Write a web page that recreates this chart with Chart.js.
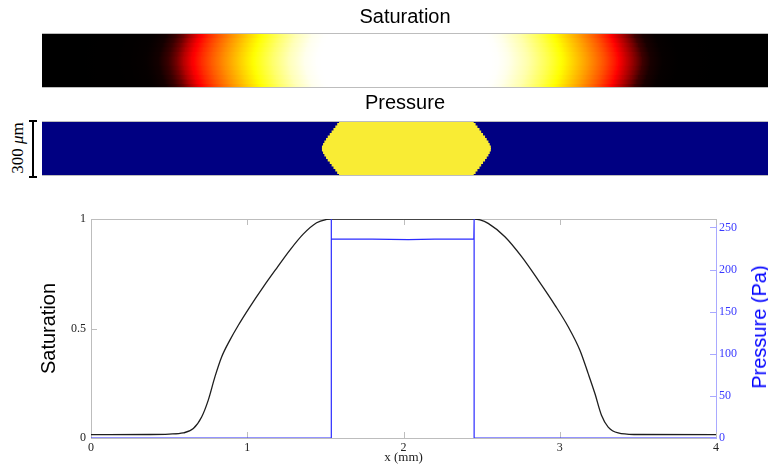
<!DOCTYPE html>
<html>
<head>
<meta charset="utf-8">
<script src="https://cdn.jsdelivr.net/npm/chart.js@4.4.1/dist/chart.umd.min.js"></script>
<style>
  html, body { margin: 0; padding: 0; background: #fff; width: 768px; height: 465px; overflow: hidden; position: relative; }
  canvas { position: absolute; }
  #satStrip { left: 42px; top: 0; }
  #presStrip { left: 42px; top: 89px; }
  #profile { left: 0; top: 190px; }
  .scale-caps { position: absolute; left: 29px; top: 120px; width: 8px; height: 54px; border-top: 2px solid #000; border-bottom: 2px solid #000; }
  .scale-line { position: absolute; left: 32px; top: 121px; width: 2px; height: 55px; background: #000; }
  .scale-label { position: absolute; left: 18px; top: 148px; transform: translate(-50%, -50%) rotate(-90deg);
                 font: 17px 'Liberation Serif', serif; white-space: nowrap; color: #000; }
  .pres-title { position: absolute; left: 759px; top: 327px; transform: translate(-50%, -50%) rotate(-90deg);
                font: 20px 'Liberation Sans', Arial, sans-serif; white-space: nowrap; color: #0000ff; line-height: 24px; }
</style>
</head>
<body>
<canvas id="satStrip" width="726" height="88"></canvas>
<canvas id="presStrip" width="726" height="87"></canvas>
<canvas id="profile" width="768" height="275"></canvas>
<div class="scale-caps"></div>
<div class="scale-line"></div>
<div class="scale-label">300 <i>μ</i>m</div>
<div class="pres-title">Pressure (Pa)</div>

<script>
// saturation profile along the channel (x in mm)
const satX = [0, 0.38, 0.5, 0.59, 0.655, 0.708, 0.75, 0.793, 0.836, 0.889,
              0.943, 1.017, 1.103, 1.188, 1.273, 1.358, 1.444, 1.508, 1.536, 2.0,
              2.452, 2.49, 2.542, 2.649, 2.756, 2.862, 2.969, 3.054, 3.129, 3.182,
              3.225, 3.267, 3.31, 3.374, 3.48, 4];
const satVal = [0.015, 0.016, 0.018, 0.023, 0.043, 0.096, 0.172, 0.279, 0.37, 0.447,
                0.515, 0.599, 0.69, 0.775, 0.858, 0.931, 0.983, 0.998, 1, 1,
                1, 0.996, 0.98, 0.919, 0.828, 0.721, 0.607, 0.508, 0.401, 0.294,
                0.203, 0.104, 0.05, 0.023, 0.016, 0.015];

// pressure profile (Pa)
const presX = [0, 1.536, 1.536, 1.54, 1.8, 2.03, 2.2, 2.45, 2.452, 2.452, 4];
const presVal = [0, 0, 260, 236, 236, 235.5, 236, 236, 260, 0, 0];

// tick labels
const xTicks = [0, 1, 2, 3, 4];
const satTicks = [0, 0.5, 1];
const presTicks = [0, 50, 100, 150, 200, 250];

// saturation strip: inward pull of the fronts per row, top to bottom (mm)
const satRowShift = [0.042, 0.031, 0.021, 0.013, 0.006, 0.0015, 0.0015, 0.006, 0.013, 0.021, 0.031, 0.042];
const satCentre = 1.994;

// pressure strip: extent of the high-pressure droplet per row, top to bottom (mm)
const dropLeft = [1.633, 1.623, 1.613, 1.603, 1.593, 1.583, 1.572, 1.563, 1.554, 1.547, 1.541,
                  1.541, 1.547, 1.554, 1.563, 1.572, 1.583, 1.593, 1.603, 1.613, 1.623, 1.633];
const dropRight = [2.352, 2.362, 2.372, 2.383, 2.392, 2.402, 2.413, 2.422, 2.431, 2.438, 2.444,
                   2.444, 2.438, 2.431, 2.422, 2.413, 2.402, 2.392, 2.383, 2.372, 2.362, 2.352];

const axisGrey = '#bdbdbd';
const axisBlue = '#a9a9ff';
const presBlue = '#2b2bff';

Chart.defaults.font.family = "'Liberation Serif', serif";

// colour limits of the strip follow the data range, like imagesc
const satMin = Math.min(...satVal);
const satMax = Math.max(...satVal);

function clamp(v) { return Math.max(0, Math.min(1, v)); }
function hot(s) {
  const v = (s - satMin) / (satMax - satMin);
  const r = clamp(v * 8 / 3), g = clamp((v - 3 / 8) * 8 / 3), b = clamp((v - 3 / 4) * 4);
  return 'rgb(' + Math.round(r * 255) + ',' + Math.round(g * 255) + ',' + Math.round(b * 255) + ')';
}

function hotFill(ctx) {
  const raw = ctx.raw;
  if (!raw || raw.s0 === undefined) return '#000';
  const xs = ctx.chart.scales.x;
  const p0 = xs.getPixelForValue(raw.x[0]);
  const p1 = xs.getPixelForValue(raw.x[1]);
  if (!isFinite(p0) || !isFinite(p1) || p1 - p0 < 0.5) return hot(raw.s0);
  const g = ctx.chart.ctx.createLinearGradient(p0, 0, p1, 0);
  for (let k = 0; k <= 6; k++) {
    const t = k / 6;
    g.addColorStop(t, hot(raw.s0 + (raw.s1 - raw.s0) * t));
  }
  return g;
}

const stripFrame = {
  id: 'stripFrame',
  afterDraw(chart) {
    const { ctx, chartArea: a } = chart;
    ctx.save();
    ctx.strokeStyle = axisGrey;
    ctx.lineWidth = 1;
    ctx.beginPath();
    ctx.moveTo(a.left, Math.round(a.top) + 0.5); ctx.lineTo(a.right, Math.round(a.top) + 0.5);
    ctx.moveTo(a.left, Math.round(a.bottom) - 0.5); ctx.lineTo(a.right, Math.round(a.bottom) - 0.5);
    ctx.stroke();
    ctx.restore();
  }
};

function stripTitle(text, pad) {
  return {
    display: true, text: text, color: '#000', padding: pad,
    font: { family: "'Liberation Sans', Arial, sans-serif", size: 20, weight: 'normal' }
  };
}

// --- saturation strip
const satRows = satRowShift.map((_, i) => 's' + i);
function pullIn(x, s) {
  if (x <= 0 || x >= 4) return x;
  return x < satCentre ? x + s : x - s;
}
new Chart(document.getElementById('satStrip'), {
  type: 'bar',
  data: {
    labels: satRows,
    datasets: satRowShift.map((s, r) => ({
      data: satX.slice(1).map((x, i) => ({
        x: [pullIn(satX[i], s), pullIn(x, s)], y: satRows[r], s0: satVal[i], s1: satVal[i + 1]
      })),
      backgroundColor: hotFill,
      borderWidth: 0,
      inflateAmount: 0.6,
      grouped: false,
      barPercentage: 1,
      categoryPercentage: 1
    }))
  },
  options: {
    indexAxis: 'y',
    responsive: false,
    animation: false,
    layout: { padding: 0 },
    plugins: {
      legend: { display: false },
      tooltip: { enabled: false },
      title: stripTitle('Saturation', { top: 5, bottom: 4 })
    },
    scales: {
      x: { type: 'linear', min: 0.03, max: 3.94, display: false },
      y: { type: 'category', display: false }
    }
  },
  plugins: [stripFrame]
});

// --- pressure strip
const presRows = dropLeft.map((_, i) => 'p' + i);
new Chart(document.getElementById('presStrip'), {
  type: 'bar',
  data: {
    labels: presRows,
    datasets: [
      {
        data: presRows.map((r, i) => ({ x: [dropLeft[i], dropRight[i]], y: r })),
        backgroundColor: '#f9ec34',
        order: 0
      },
      {
        data: presRows.map(r => ({ x: [0, 4], y: r })),
        backgroundColor: '#000082',
        order: 1
      }
    ]
  },
  options: {
    indexAxis: 'y',
    responsive: false,
    animation: false,
    datasets: { bar: { grouped: false, barPercentage: 1, categoryPercentage: 1, borderWidth: 0, inflateAmount: 0.6 } },
    plugins: {
      legend: { display: false },
      tooltip: { enabled: false },
      title: stripTitle('Pressure', { top: 2, bottom: 6 })
    },
    scales: {
      x: { type: 'linear', min: 0.03, max: 3.94, display: false },
      y: { type: 'category', display: false }
    }
  },
  plugins: [stripFrame]
});

// --- profile plot
const boxTicks = {
  id: 'boxTicks',
  beforeDatasetsDraw(chart) {
    const { ctx, chartArea: a, scales } = chart;
    const len = 6;
    ctx.save();
    ctx.lineWidth = 1;
    ctx.strokeStyle = axisGrey;
    ctx.beginPath();
    ctx.moveTo(a.left, Math.round(a.top) + 0.5);
    ctx.lineTo(a.right, Math.round(a.top) + 0.5);
    scales.x.ticks.forEach(t => {
      const px = Math.round(scales.x.getPixelForValue(t.value)) + 0.5;
      ctx.moveTo(px, a.bottom); ctx.lineTo(px, a.bottom - len);
      ctx.moveTo(px, a.top); ctx.lineTo(px, a.top + len);
    });
    scales.y.ticks.forEach(t => {
      const py = Math.round(scales.y.getPixelForValue(t.value)) + 0.5;
      ctx.moveTo(a.left, py); ctx.lineTo(a.left + len, py);
    });
    ctx.stroke();
    ctx.strokeStyle = axisBlue;
    ctx.beginPath();
    scales.y1.ticks.forEach(t => {
      const py = Math.round(scales.y1.getPixelForValue(t.value)) + 0.5;
      ctx.moveTo(a.right, py); ctx.lineTo(a.right - len, py);
    });
    ctx.stroke();
    ctx.restore();
  }
};

const sansTitle = { family: "'Liberation Sans', Arial, sans-serif", size: 20 };
const plainNum = v => String(v);

new Chart(document.getElementById('profile'), {
  type: 'line',
  data: {
    datasets: [
      {
        label: 'Pressure',
        data: presX.map((x, i) => ({ x: x, y: presVal[i] })),
        yAxisID: 'y1',
        borderColor: presBlue,
        borderWidth: 1.2,
        pointRadius: 0,
        tension: 0
      },
      {
        label: 'Saturation',
        data: satX.map((x, i) => ({ x: x, y: satVal[i] })),
        yAxisID: 'y',
        borderColor: '#1e1e1e',
        borderWidth: 1.3,
        pointRadius: 0,
        cubicInterpolationMode: 'monotone'
      }
    ]
  },
  options: {
    responsive: false,
    animation: false,
    layout: { padding: { left: 33, top: 29, right: 0, bottom: 0 } },
    plugins: { legend: { display: false }, tooltip: { enabled: false } },
    scales: {
      x: {
        type: 'linear', min: 0, max: 4,
        afterBuildTicks: s => { s.ticks = xTicks.map(v => ({ value: v })); },
        afterFit: s => { s.height = 27; },
        grid: { display: false, drawTicks: false },
        border: { color: axisGrey },
        ticks: { color: '#222', font: { size: 12 }, padding: 3, maxRotation: 0, autoSkip: false, callback: plainNum },
        title: { display: true, text: 'x (mm)', color: '#222', font: { size: 13 }, padding: 0 }
      },
      y: {
        position: 'left', min: 0, max: 1,
        afterBuildTicks: s => { s.ticks = satTicks.map(v => ({ value: v })); },
        afterFit: s => { s.width = 58; },
        grid: { display: false, drawTicks: false },
        border: { color: axisGrey },
        ticks: { color: '#222', font: { size: 12 }, padding: 5, autoSkip: false, callback: plainNum },
        title: { display: true, text: 'Saturation', color: '#000', font: sansTitle, padding: { top: 4, bottom: 0 } }
      },
      y1: {
        position: 'right', min: 0, max: 260,
        afterBuildTicks: s => { s.ticks = presTicks.map(v => ({ value: v })); },
        afterFit: s => { s.width = 52; },
        grid: { display: false, drawTicks: false },
        border: { color: axisBlue },
        ticks: { color: '#3a3aff', font: { size: 12 }, padding: 3, autoSkip: false, callback: plainNum }
      }
    }
  },
  plugins: [boxTicks]
});
</script>
</body>
</html>
